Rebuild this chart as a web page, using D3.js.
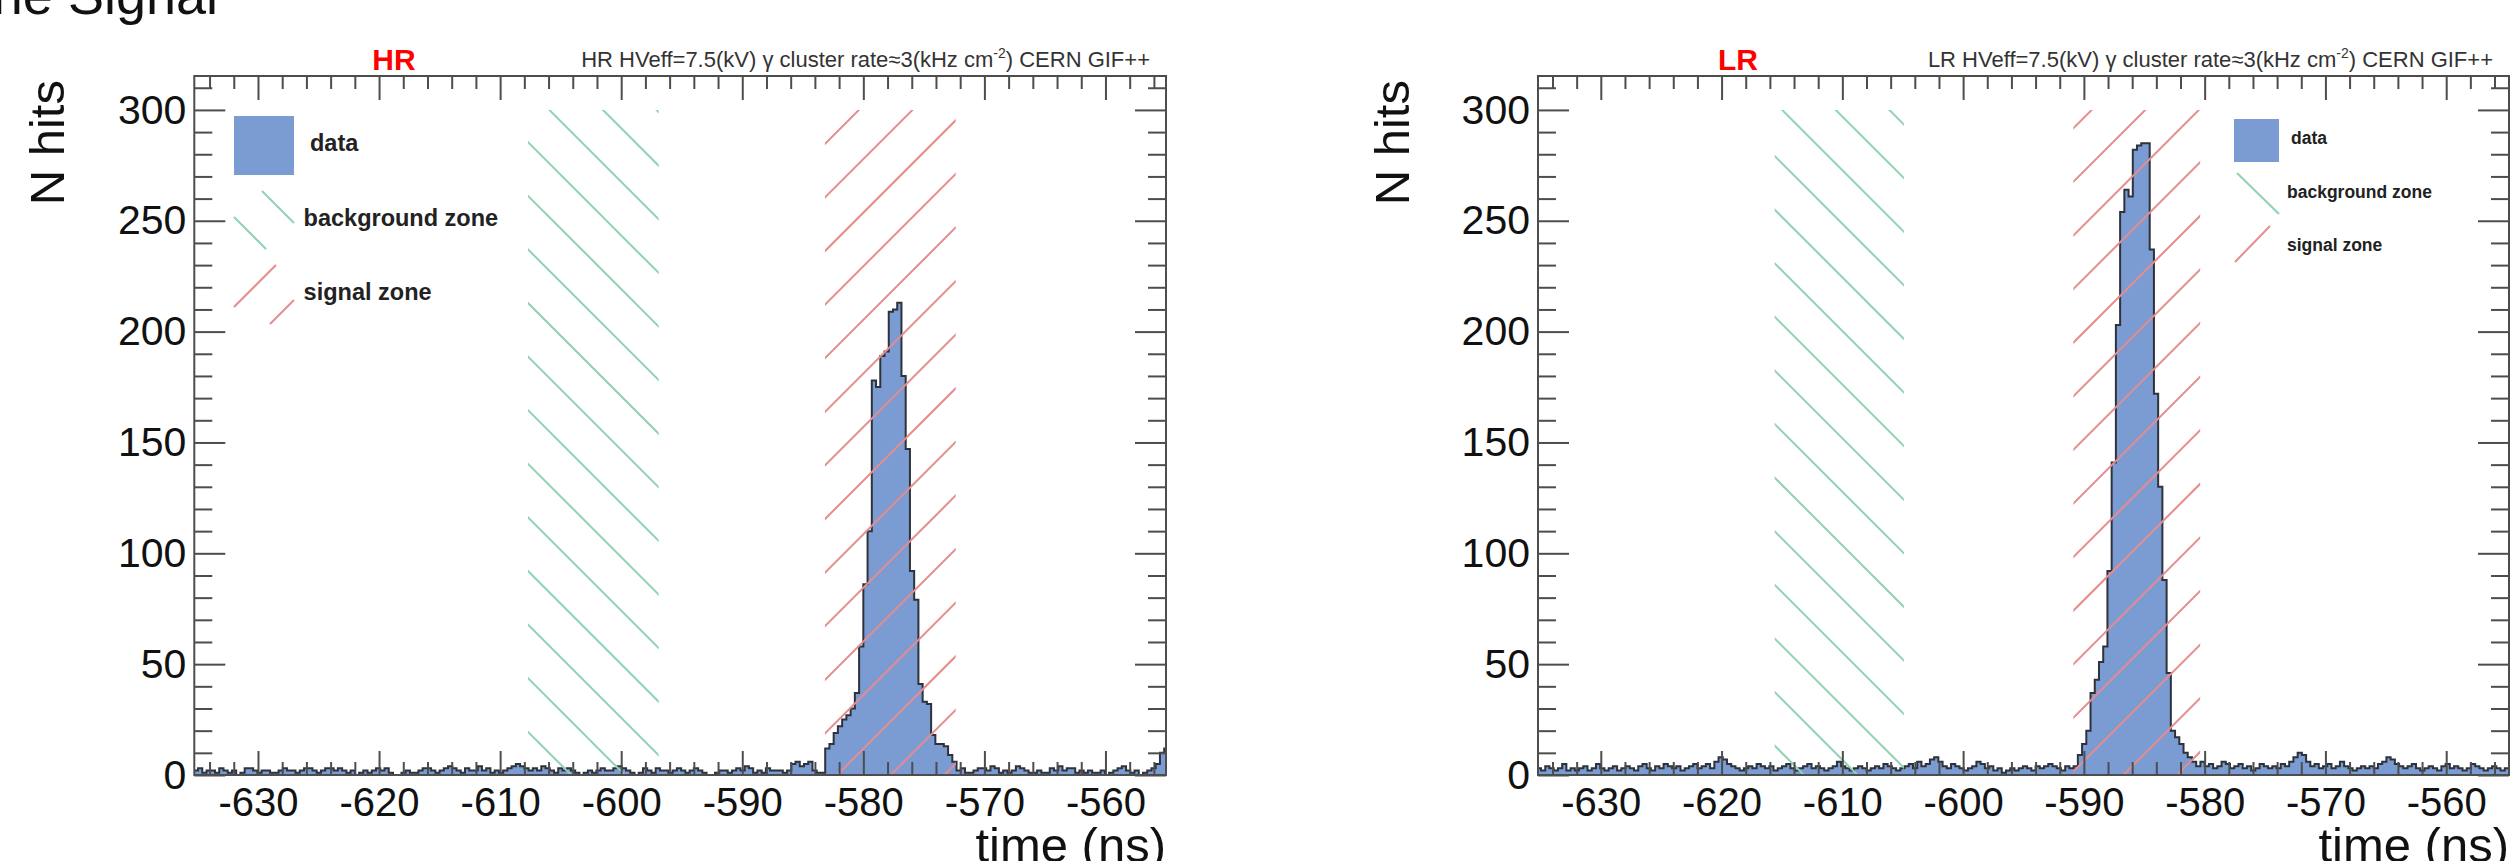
<!DOCTYPE html>
<html>
<head>
<meta charset="utf-8">
<script src="https://cdn.jsdelivr.net/npm/d3@7"></script>
<style>
  body { margin: 0; background: #fff; }
  svg { display: block; }
  text { font-family: "Liberation Sans", Arial, Helvetica, sans-serif; }
</style>
</head>
<body>
<svg id="chart" width="2516" height="861"></svg>
<script>
// ---- histogram binning (time in ns) ----
const binStart = -635.3;
const binWidth = 0.35;

// HR gap: hits per bin
const hrCounts = [
  2,3,1,2,2,1,3,2,1,2,0,1,3,3,2,1,2,2,1,1,
  2,3,2,2,1,2,3,3,2,1,2,3,3,2,3,2,1,2,0,1,
  2,1,2,3,2,3,1,0,0,1,2,1,1,2,3,3,2,1,2,3,
  4,3,2,1,3,2,2,4,2,3,1,2,1,2,3,4,5,4,3,2,
  3,2,4,3,2,1,3,2,3,2,1,0,1,2,1,2,3,2,2,3,
  4,3,2,1,0,1,3,2,1,3,2,2,1,2,3,2,1,2,3,2,
  1,0,0,1,2,2,1,2,3,2,4,3,1,2,1,3,2,2,2,1,
  2,5,6,4,5,6,2,1,1,
  12,14,19,22,25,27,30,37,58,86,110,178,175,189,191,209,210,213,180,147,
  92,79,41,33,32,18,14,14,13,9,6,2,
  3,1,1,2,3,3,2,4,3,1,2,1,2,4,3,2,1,1,2,1,
  1,3,2,4,2,3,3,1,2,1,2,1,1,2,0,1,2,3,4,2,
  1,2,0,1,2,3,5,10,12
];

// LR gap: hits per bin
const lrCounts = [
  3,2,4,3,2,3,5,2,3,2,3,4,2,3,5,3,2,3,4,2,
  3,4,3,2,4,5,3,2,4,3,5,4,3,4,2,3,4,5,3,4,
  5,3,6,8,7,5,4,3,2,3,4,3,5,4,3,4,2,3,4,5,
  3,2,3,4,5,3,4,3,2,3,4,6,4,3,2,3,4,3,2,3,
  4,3,5,4,3,2,3,4,5,3,6,4,5,7,8,6,4,3,5,4,
  3,2,3,4,6,5,3,4,2,3,1,2,3,2,3,4,3,2,4,3,
  4,5,4,3,2,4,3,
  4,9,14,20,37,43,51,58,92,141,203,254,264,261,282,284,285,285,237,172,
  130,88,46,20,17,14,10,8,6,4,
  6,4,5,3,4,6,5,3,4,5,3,4,2,3,5,4,3,4,3,5,
  4,6,8,10,9,6,4,5,3,4,5,3,4,6,4,3,2,3,4,3,
  4,3,5,6,8,7,5,4,3,4,5,3,2,3,4,3,2,4,5,3,
  4,3,2,3,5,4,3,2,3,4,3,2,3
];

// time windows [start, end] in ns
const hrBackgroundZone = [-607.7, -596.9];
const hrSignalZone = [-583.17, -572.37];
const lrBackgroundZone = [-615.6, -604.9];
const lrSignalZone = [-590.87, -580.37];
const zoneHeight = [0, 300];

// axis ticks
const xMajorTicks = [-630, -620, -610, -600, -590, -580, -570, -560];
const xMinorTicks = d3.range(-634, -555, 2).filter(v => v % 10 !== 0);
const yMajorTicks = [0, 50, 100, 150, 200, 250, 300];
const yMinorTicks = d3.range(10, 311, 10).filter(v => v % 50 !== 0);

const legendLabels = ["data", "background zone", "signal zone"];

// ---- styling ----
const fillColor = "#7b9bd3";
const outlineColor = "#2e333b";
const bgColor = "#90d2b3";
const sigColor = "#e58c8f";
const axisColor = "#4d4d4d";
const hatchStep = 53.6;

const svg = d3.select("#chart");

// slide heading (partly above the visible area)
svg.append("text")
  .attr("x", 218).attr("y", 14)
  .attr("text-anchor", "end")
  .attr("font-size", 54)
  .attr("fill", "#111")
  .text("the Signal");

const yDomain = [0, 315.3];
const yRange = [775, 76];

const panels = [
  {
    key: "hr", label: "HR", counts: hrCounts,
    bg: hrBackgroundZone, sig: hrSignalZone,
    xDomain: [-635.26, -555.0], xRange: [194.3, 1166],
    titleX: 394, subEnd: 1150, yTitleX: 64,
    legend: {
      font: 23.5, swatch: [234, 116, 60, 59], textX: [310, 303.6, 303.6], textY: [143, 218, 292],
      bgSegs: [[234, 217, 266, 249], [262, 191, 294, 223]],
      sigSegs: [[234, 307, 276, 265], [270, 324, 294, 300]]
    }
  },
  {
    key: "lr", label: "LR", counts: lrCounts,
    bg: lrBackgroundZone, sig: lrSignalZone,
    xDomain: [-635.2, -554.8], xRange: [1538, 2509],
    titleX: 1738, subEnd: 2493, yTitleX: 1408.6,
    legend: {
      font: 17.5, swatch: [2234, 119, 45, 43], textX: [2291, 2287, 2287], textY: [138, 192, 245],
      bgSegs: [[2237, 173, 2279, 214]],
      sigSegs: [[2235, 262, 2270, 226]]
    }
  }
];

panels.forEach(p => {
  const x = d3.scaleLinear().domain(p.xDomain).range(p.xRange);
  const y = d3.scaleLinear().domain(yDomain).range(yRange);
  const g = svg.append("g").attr("class", "panel-" + p.key);

  const clipId = "clip-" + p.key;
  svg.append("defs").append("clipPath").attr("id", clipId)
    .append("rect")
    .attr("x", p.xRange[0]).attr("y", yRange[1])
    .attr("width", p.xRange[1] - p.xRange[0]).attr("height", yRange[0] - yRange[1]);

  // histogram as steps
  const bins = p.counts.map((c, i) => ({ t: binStart + i * binWidth, c }));
  bins.push({ t: binStart + p.counts.length * binWidth, c: p.counts[p.counts.length - 1] });

  const area = d3.area().curve(d3.curveStepAfter)
    .x(d => x(d.t)).y0(y(0)).y1(d => y(d.c));
  const line = d3.line().curve(d3.curveStepAfter)
    .x(d => x(d.t)).y(d => y(d.c));

  const hg = g.append("g").attr("clip-path", `url(#${clipId})`);
  hg.append("path").datum(bins).attr("d", area).attr("fill", fillColor);
  hg.append("path").datum(bins).attr("d", line)
    .attr("fill", "none").attr("stroke", outlineColor).attr("stroke-width", 2);

  // hatched time windows
  function hatch(zone, color, dir, phase, id) {
    const x0 = x(zone[0]), x1 = x(zone[1]);
    const y0 = y(zoneHeight[1]), y1 = y(zoneHeight[0]);
    const zid = "zone-" + p.key + "-" + id;
    svg.select("defs").append("clipPath").attr("id", zid)
      .append("rect").attr("x", x0).attr("y", y0).attr("width", x1 - x0).attr("height", y1 - y0);
    const zg = g.append("g").attr("clip-path", `url(#${zid})`);
    const lines = [];
    if (dir === "/") {
      // y = c - x
      const cMin = x0 + y0, cMax = x1 + y1;
      let c = Math.floor((cMin - phase) / hatchStep) * hatchStep + phase;
      for (; c <= cMax; c += hatchStep) lines.push([x0 - 5, c - (x0 - 5), x1 + 5, c - (x1 + 5)]);
    } else {
      // y = x + c
      const cMin = y0 - x1, cMax = y1 - x0;
      let c = Math.floor((cMin - phase) / hatchStep) * hatchStep + phase;
      for (; c <= cMax; c += hatchStep) lines.push([x0 - 5, x0 - 5 + c, x1 + 5, x1 + 5 + c]);
    }
    zg.selectAll("line").data(lines).join("line")
      .attr("x1", d => d[0]).attr("y1", d => d[1])
      .attr("x2", d => d[2]).attr("y2", d => d[3])
      .attr("stroke", color).attr("stroke-width", 2);
  }
  hatch(p.bg, bgColor, "\\", 43, "bg");
  hatch(p.sig, sigColor, "/", 4, "sig");

  // axes: ticks pointing into the frame on all four sides
  const styleAxis = sel => {
    sel.select(".domain").remove();
    sel.selectAll(".tick line").attr("stroke", axisColor).attr("stroke-width", 2);
  };
  const bottom = g.append("g").attr("transform", `translate(0,${yRange[0]})`)
    .call(d3.axisBottom(x).tickValues(xMajorTicks).tickSize(-24).tickPadding(13).tickFormat(d => String(d)))
    .call(styleAxis);
  bottom.selectAll("text").attr("font-size", 40).attr("fill", "#111")
    .attr("font-family", "Liberation Sans, Arial, sans-serif");
  g.append("g").attr("transform", `translate(0,${yRange[0]})`)
    .call(d3.axisBottom(x).tickValues(xMinorTicks).tickSize(-13).tickFormat(""))
    .call(styleAxis);
  g.append("g").attr("transform", `translate(0,${yRange[1]})`)
    .call(d3.axisTop(x).tickValues(xMajorTicks).tickSize(-24).tickFormat(""))
    .call(styleAxis);
  g.append("g").attr("transform", `translate(0,${yRange[1]})`)
    .call(d3.axisTop(x).tickValues(xMinorTicks).tickSize(-13).tickFormat(""))
    .call(styleAxis);

  const left = g.append("g").attr("transform", `translate(${p.xRange[0]},0)`)
    .call(d3.axisLeft(y).tickValues(yMajorTicks).tickSize(-31).tickPadding(8).tickFormat(d => String(d)))
    .call(styleAxis);
  left.selectAll("text").attr("font-size", 41).attr("fill", "#111")
    .attr("font-family", "Liberation Sans, Arial, sans-serif");
  g.append("g").attr("transform", `translate(${p.xRange[0]},0)`)
    .call(d3.axisLeft(y).tickValues(yMinorTicks).tickSize(-18).tickFormat(""))
    .call(styleAxis);
  g.append("g").attr("transform", `translate(${p.xRange[1]},0)`)
    .call(d3.axisRight(y).tickValues(yMajorTicks).tickSize(-31).tickFormat(""))
    .call(styleAxis);
  g.append("g").attr("transform", `translate(${p.xRange[1]},0)`)
    .call(d3.axisRight(y).tickValues(yMinorTicks).tickSize(-18).tickFormat(""))
    .call(styleAxis);

  // frame
  g.append("rect")
    .attr("x", p.xRange[0]).attr("y", yRange[1])
    .attr("width", p.xRange[1] - p.xRange[0]).attr("height", yRange[0] - yRange[1])
    .attr("fill", "none").attr("stroke", axisColor).attr("stroke-width", 2);

  // axis titles
  g.append("text")
    .attr("transform", `translate(${p.yTitleX},80) rotate(-90)`)
    .attr("text-anchor", "end")
    .attr("font-size", 49).attr("fill", "#111")
    .text("N hits");
  g.append("text")
    .attr("x", p.xRange[1]).attr("y", 862)
    .attr("text-anchor", "end")
    .attr("font-size", 49).attr("fill", "#111")
    .text("time (ns)");

  // titles
  g.append("text")
    .attr("x", p.titleX).attr("y", 70)
    .attr("text-anchor", "middle")
    .attr("font-size", 30).attr("font-weight", "bold").attr("fill", "#ff0000")
    .text(p.label);
  const sub = g.append("text")
    .attr("x", p.subEnd).attr("y", 67)
    .attr("text-anchor", "end")
    .attr("font-size", 22).attr("fill", "#333");
  sub.append("tspan").text(`${p.label} HVeff=7.5(kV) γ cluster rate≈3(kHz cm`);
  sub.append("tspan").attr("dy", -9).attr("font-size", 14).text("-2");
  sub.append("tspan").attr("dy", 9).text(") CERN GIF++");

  // legend
  const L = p.legend;
  const lg = g.append("g");
  lg.append("rect")
    .attr("x", L.swatch[0]).attr("y", L.swatch[1])
    .attr("width", L.swatch[2]).attr("height", L.swatch[3])
    .attr("fill", fillColor);
  lg.selectAll("line.bg").data(L.bgSegs).join("line").attr("class", "bg")
    .attr("x1", d => d[0]).attr("y1", d => d[1]).attr("x2", d => d[2]).attr("y2", d => d[3])
    .attr("stroke", bgColor).attr("stroke-width", 2);
  lg.selectAll("line.sig").data(L.sigSegs).join("line").attr("class", "sig")
    .attr("x1", d => d[0]).attr("y1", d => d[1]).attr("x2", d => d[2]).attr("y2", d => d[3])
    .attr("stroke", sigColor).attr("stroke-width", 2);
  lg.selectAll("text").data(legendLabels).join("text")
    .attr("x", (d, i) => L.textX[i]).attr("y", (d, i) => L.textY[i])
    .attr("dy", "0.35em")
    .attr("font-size", L.font).attr("font-weight", "bold").attr("fill", "#222")
    .text(d => d);
});
</script>
</body>
</html>
